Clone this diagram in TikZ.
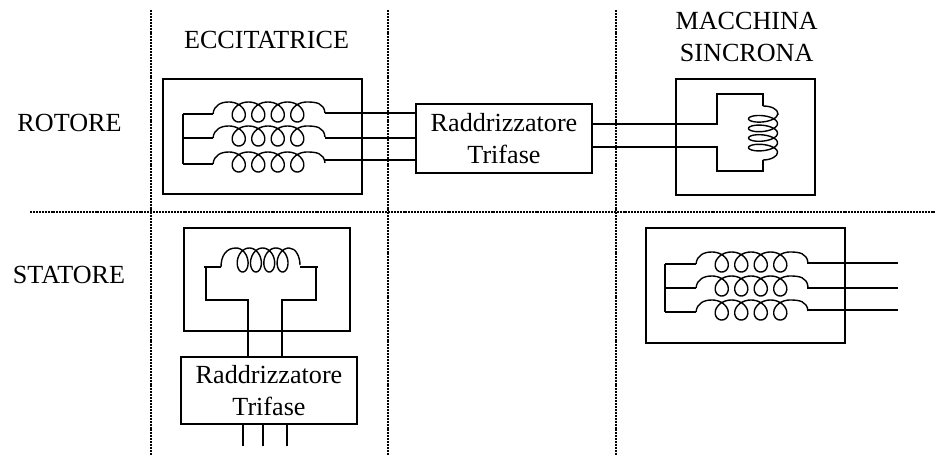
\documentclass[tikz,border=0pt]{standalone}
\usepackage{fontspec}
\setmainfont{Liberation Serif}
\tikzset{
  x=0.75pt,y=-0.75pt,
  wire/.style={draw=black,line width=1.25pt},
  frame/.style={draw=black,line width=1.25pt,minimum width=#1,inner sep=0pt},
  lab/.style={font=\fontsize{19.6}{23.5}\selectfont,align=center,inner sep=0pt},
  sep/.style={draw=black,line width=1.8pt,dash pattern=on 1.5pt off 0.7pt},
  coilh/.pic={
    \draw[black,line width=1.05pt] (0,0) .. controls (1,-9) and (8,-12) .. (16,-12)
      -- plot[domain=0:1440,samples=145,smooth] ({16+\x/360*19.5+11*sin(\x)},{-2-10*cos(\x)})
      .. controls (103,-12) and (111,-11) .. (112,-1);
  },
  coils/.pic={
    \draw[black,line width=1.05pt] (0,0) .. controls (0,-11) and (5,-19) .. (15,-19)
      -- plot[domain=0:1440,samples=145,smooth] ({15+\x/360*13.3+8.5*sin(\x)},{-7-12*cos(\x)})
      .. controls (75,-19) and (79,-10) .. (79,-2);
  },
  coilv/.pic={
    \draw[black,line width=1.05pt] (0,0) .. controls (8,0) and (15,3) .. (15,8)
      -- plot[domain=0:1440,samples=145,smooth] ({14.5*cos(\x)},{8+\x/360*9.6+5.5*sin(\x)})
      .. controls (15,50) and (8,54) .. (0,54);
  }
}
\begin{document}
\begin{tikzpicture}
\useasboundingbox (0,0) rectangle (935,456);
% separators
\coordinate (v1t) at (151,10); \coordinate (v1b) at (151,456);
\coordinate (v2t) at (388,10); \coordinate (v2b) at (388,456);
\coordinate (v3t) at (616,10); \coordinate (v3b) at (616,456);
\coordinate (hl) at (30,212); \coordinate (hr) at (935,212);
\draw[sep] (v1t)--(v1b); \draw[sep] (v2t)--(v2b); \draw[sep] (v3t)--(v3b); \draw[sep] (hl)--(hr);
% labels
\node[lab,anchor=base] (lecc) at (266.5,49) {ECCITATRICE};
\node[lab] (lmac) at (746.7,37) {MACCHINA\\SINCRONA};
\node[lab,anchor=base] (lrot) at (69.5,132) {ROTORE};
\node[lab,anchor=base] (lsta) at (69,283) {STATORE};
% boxes
\node[frame=149.25pt,minimum height=86.25pt] (b1) at (262.5,136.5) {};
\node[frame=132pt,minimum height=51.75pt,lab] (r1) at (504,138.5) {Raddrizzatore\\Trifase};
\node[frame=104.25pt,minimum height=87pt] (b2) at (745.5,137) {};
\node[frame=124.5pt,minimum height=77.25pt] (b3) at (267,279.5) {};
\node[frame=132pt,minimum height=50.25pt,lab] (r2) at (269,390.5) {Raddrizzatore\\Trifase};
\node[frame=149.25pt,minimum height=86.25pt] (b4) at (745.5,285.5) {};
% rotor exciter
\coordinate (a1) at (213,114); \coordinate (a2) at (213,138); \coordinate (a3) at (213,164);
\coordinate (a1e) at (325,113); \coordinate (a2e) at (325,138); \coordinate (a3e) at (325,160);
\coordinate (bus1) at (183,114); \coordinate (bus2) at (183,138); \coordinate (bus3) at (183,164);
\pic at (a1) {coilh}; \pic at (a2) {coilh}; \pic at (a3) {coilh};
\draw[wire] (bus1)--(bus3); \draw[wire] (bus1)--(a1); \draw[wire] (bus2)--(a2); \draw[wire] (bus3)--(a3);
\draw[wire] (a1e)--(r1.west |- a1e); \draw[wire] (a2e)--(r1.west |- a2e); \draw[wire] (a3e)--(r1.west |- a3e);
% synchronous rotor
\coordinate (f1) at (717,124); \coordinate (f2) at (717,147);
\coordinate (ft) at (717,94); \coordinate (fb) at (717,171);
\coordinate (ct) at (763,94); \coordinate (cb) at (763,171);
\coordinate (c1) at (763,106); \coordinate (c2) at (763,160);
\pic at (c1) {coilv};
\draw[wire] (r1.east |- f1)--(f1)--(ft)--(ct)--(c1);
\draw[wire] (r1.east |- f2)--(f2)--(fb)--(cb)--(c2);
% exciter stator
\coordinate (s1) at (221,267); \coordinate (s2) at (300,265);
\coordinate (s1l) at (204,267); \coordinate (s2r) at (318,267);
\coordinate (s1c) at (206,267); \coordinate (s2c) at (316,267);
\coordinate (s1d) at (206,300); \coordinate (s2d) at (316,300);
\coordinate (s1t) at (248,300); \coordinate (s2t) at (282,300);
\pic at (s1) {coils};
\draw[wire] (s1l)--(s1);
\draw[wire] (s2r)--(s2 |- s2r);
\draw[wire] (s1c)--(s1d)--(s1t)--(s1t |- r2.north);
\draw[wire] (s2c)--(s2d)--(s2t)--(s2t |- r2.north);
\coordinate (t1) at (243,446); \coordinate (t2) at (263,446); \coordinate (t3) at (287,446);
\draw[wire] (t1 |- r2.south)--(t1); \draw[wire] (t2 |- r2.south)--(t2); \draw[wire] (t3 |- r2.south)--(t3);
% synchronous stator
\coordinate (g1) at (696,264); \coordinate (g2) at (696,288); \coordinate (g3) at (696,312);
\coordinate (g1e) at (807,263); \coordinate (g2e) at (807,288); \coordinate (g3e) at (807,310);
\coordinate (h1) at (665,264); \coordinate (h2) at (665,288); \coordinate (h3) at (665,312);
\coordinate (o1) at (898,263); \coordinate (o2) at (898,288); \coordinate (o3) at (898,310);
\pic at (g1) {coilh}; \pic at (g2) {coilh}; \pic at (g3) {coilh};
\draw[wire] (h1)--(h3); \draw[wire] (h1)--(g1); \draw[wire] (h2)--(g2); \draw[wire] (h3)--(g3);
\draw[wire] (g1e)--(o1); \draw[wire] (g2e)--(o2); \draw[wire] (g3e)--(o3);
\end{tikzpicture}
\end{document}
